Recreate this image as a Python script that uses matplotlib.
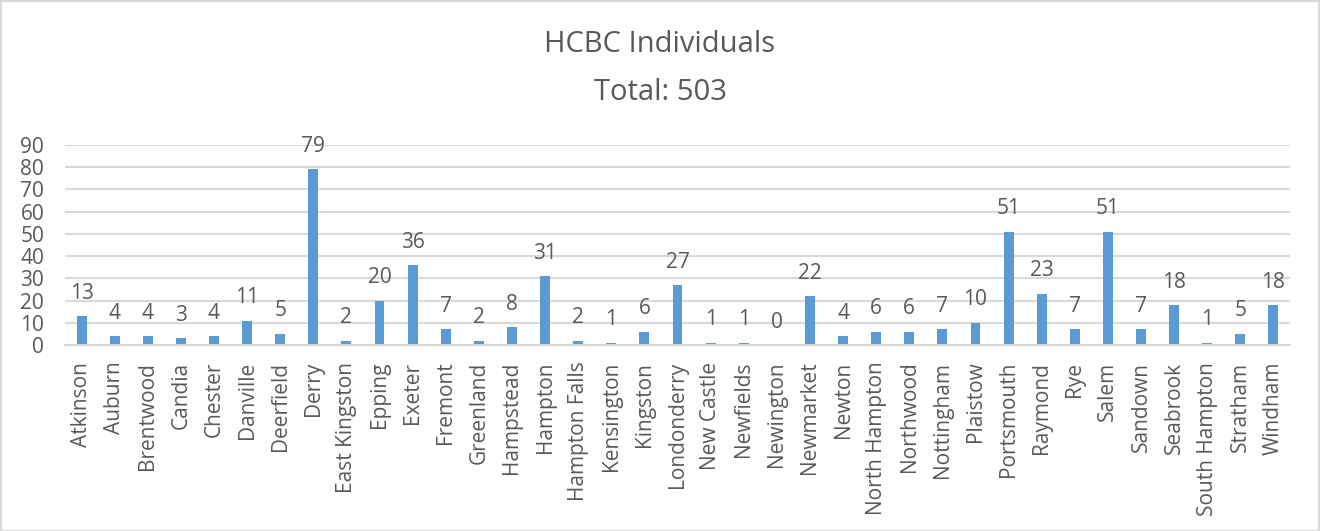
import matplotlib
matplotlib.use("Agg")
import matplotlib.pyplot as plt
from matplotlib.patches import Rectangle

towns = ["Atkinson", "Auburn", "Brentwood", "Candia", "Chester", "Danville", "Deerfield",
         "Derry", "East Kingston", "Epping", "Exeter", "Fremont", "Greenland", "Hampstead",
         "Hampton", "Hampton Falls", "Kensington", "Kingston", "Londonderry", "New Castle",
         "Newfields", "Newington", "Newmarket", "Newton", "North Hampton", "Northwood",
         "Nottingham", "Plaistow", "Portsmouth", "Raymond", "Rye", "Salem", "Sandown",
         "Seabrook", "South Hampton", "Stratham", "Windham"]
individuals = [13, 4, 4, 3, 4, 11, 5, 79, 2, 20, 36, 7, 2, 8, 31, 2, 1, 6, 27, 1, 1, 0,
               22, 4, 6, 6, 7, 10, 51, 23, 7, 51, 7, 18, 1, 5, 18]
yticks = list(range(0, 91, 10))
title_line1 = "HCBC Individuals"
title_line2 = "Total: 503"

plt.rcParams['font.family'] = ['Open Sans', 'DejaVu Sans']
TXT = "#595959"
GRID = "#D9D9D9"
BAR = "#5B9BD5"

fig = plt.figure(figsize=(13.2, 5.31), dpi=100)
ax = fig.add_axes([65/1320, 186/531, 1225/1320, 200/531])

x = list(range(len(towns)))
ax.bar(x, individuals, width=0.3, color=BAR, zorder=3)
for xi, v in zip(x, individuals):
    ax.annotate(str(v), (xi, v), xytext=(0, 9), textcoords="offset points",
                ha="center", va="bottom", fontsize=15, color=TXT)

ax.set_xlim(-0.5, len(towns) - 0.5)
ax.set_ylim(0, 90)
ax.set_yticks(yticks)
ax.set_yticklabels([str(t) for t in yticks], fontsize=15, color=TXT)
ax.set_xticks(x)
ax.set_xticklabels(towns, rotation=90, fontsize=15, color=TXT)
ax.tick_params(axis="x", length=0, pad=12)
ax.tick_params(axis="y", length=0, pad=15)
ax.grid(axis="y", color=GRID, linewidth=1.5, zorder=0)
for s in ["top", "right", "left"]:
    ax.spines[s].set_visible(False)
ax.spines["bottom"].set_color(GRID)
ax.spines["bottom"].set_linewidth(1.5)
ax.spines["bottom"].set_zorder(4)

fig.text(0.5, 1 - 45/531, title_line1, ha="center", va="center", fontsize=21, color=TXT)
fig.text(0.5, 1 - 93/531, title_line2, ha="center", va="center", fontsize=21, color=TXT)

fig.patches.append(Rectangle((0.5/1320, 0.5/531), 1 - 1.5/1320, 1 - 1.5/531,
                             transform=fig.transFigure, fill=False,
                             edgecolor=GRID, linewidth=1.5))

fig.savefig("out.png", dpi=100)
